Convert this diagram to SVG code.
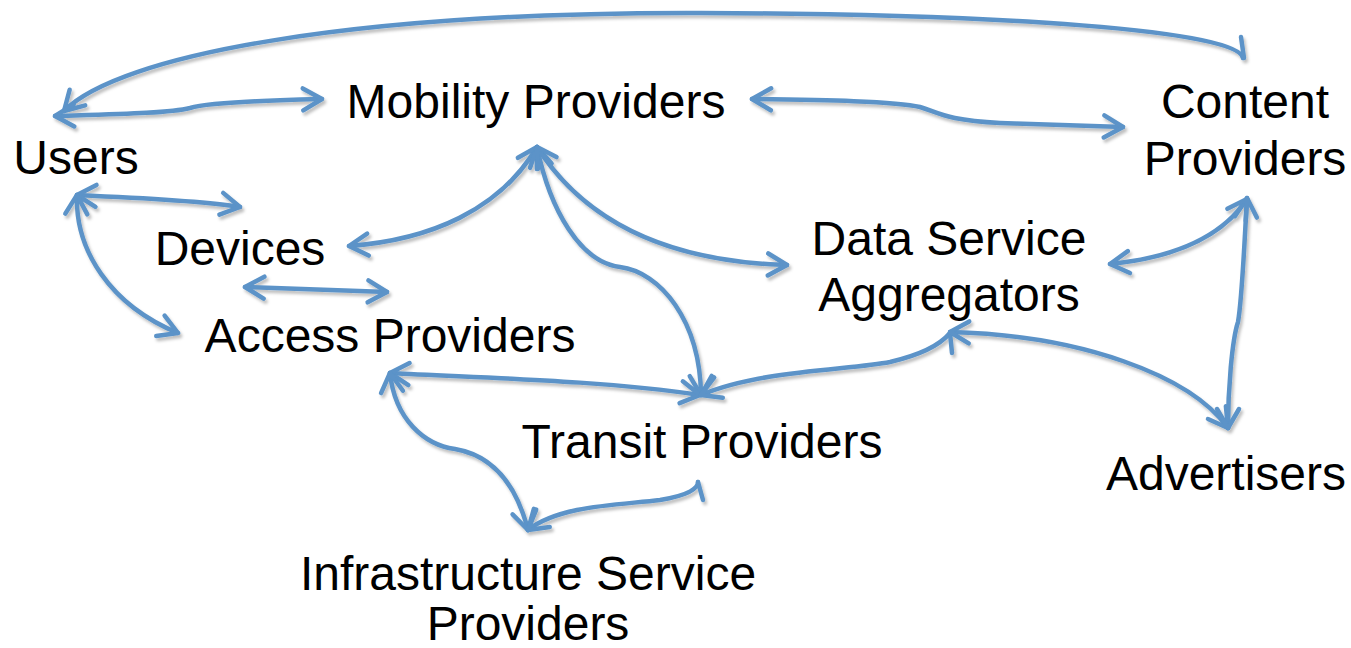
<svg xmlns="http://www.w3.org/2000/svg" width="1351" height="648" viewBox="0 0 1351 648">
  <style>
    .lbl { font-family: "Liberation Sans", Arial, sans-serif; font-size: 48px; fill: #000; text-anchor: middle; }
    .c { fill: none; stroke: #5b93c8; stroke-width: 4.5; stroke-linecap: round; stroke-linejoin: round; }
    .both { marker-start: url(#arr); marker-end: url(#arr); }
    .startonly { marker-start: url(#arr); }
  </style>
  <defs>
    <marker id="arr" markerUnits="userSpaceOnUse" viewBox="-24 -14 28 28" refX="0" refY="0" markerWidth="28" markerHeight="28" orient="auto-start-reverse" overflow="visible">
      <path d="M -19 -11 L 0 0 L -19 11" fill="none" stroke="#5b93c8" stroke-width="4.5" stroke-linecap="round" stroke-linejoin="round"/>
    </marker>
    <filter id="shadow" x="-5%" y="-5%" width="110%" height="110%">
      <feDropShadow dx="2" dy="3" stdDeviation="1.5" flood-color="#000" flood-opacity="0.25"/>
    </filter>
  </defs>
  <rect width="1351" height="648" fill="#fff"/>

  <g id="connectors" filter="url(#shadow)">
    <!-- long arc from Content Providers back to Users -->
    <path class="c startonly" d="M 64 111 C 120 55, 350 12, 700 13 C 1000 14, 1238 30, 1243 58"/>
    <path class="c" d="M 1241 37 L 1244 58"/>
    <!-- Users <-> Mobility Providers -->
    <path class="c both" d="M 55 116 C 120 114, 170 113, 190 108 C 210 102, 280 100, 322 99"/>
    <!-- Mobility Providers <-> Content Providers -->
    <path class="c both" d="M 752 99 C 820 100, 895 101, 920 107 C 940 113, 945 120, 1000 123 C 1050 125, 1090 126, 1123 127"/>
    <!-- Users <-> Devices -->
    <path class="c both" d="M 77 195 C 120 197, 200 200, 240 207"/>
    <!-- Users <-> Access Providers -->
    <path class="c both" d="M 77 195 C 75 250, 110 305, 178 333"/>
    <!-- Mobility Providers fan-out -->
    <path class="c both" d="M 537 147 C 500 210, 430 240, 349 246"/>
    <path class="c both" d="M 537 147 C 550 210, 580 262, 620 267 C 660 272, 700 320, 701 395"/>
    <path class="c both" d="M 537 147 C 590 230, 680 262, 787 265"/>
    <!-- Devices <-> Access Providers -->
    <path class="c both" d="M 245 287 L 387 292"/>
    <!-- Access Providers <-> Transit Providers -->
    <path class="c both" d="M 390 373 C 480 378, 600 380, 700 395"/>
    <!-- Transit Providers -> Data Service Aggregators -->
    <path class="c startonly" d="M 701 395 C 760 370, 850 370, 890 362 C 920 355, 940 345, 950 333"/>
    <path class="c" d="M 950 333 L 952 353"/>
    <!-- Data Service Aggregators <-> Advertisers -->
    <path class="c both" d="M 950 332 C 1080 335, 1190 375, 1228 428"/>
    <!-- Content Providers <-> Advertisers -->
    <path class="c both" d="M 1247 198 C 1244 250, 1242 300, 1238 322 C 1232 340, 1228 390, 1228 428"/>
    <!-- Content Providers <-> Data Service Aggregators -->
    <path class="c both" d="M 1247 199 C 1220 240, 1170 258, 1110 264"/>
    <!-- Access Providers <-> Infrastructure Service Providers -->
    <path class="c both" d="M 390 373 C 395 420, 425 445, 455 449 C 490 455, 515 480, 528 530"/>
    <!-- Infrastructure Service Providers -> Transit Providers -->
    <path class="c startonly" d="M 528 530 C 560 505, 620 505, 660 500 C 690 495, 698 488, 698 482"/>
    <path class="c" d="M 698 482 L 703 500"/>
  </g>

  <g id="users"><text class="lbl" x="76" y="174">Users</text></g>
  <g id="mobility-providers"><text class="lbl" x="536" y="118">Mobility Providers</text></g>
  <g id="content-providers">
    <text class="lbl" x="1245" y="118">Content</text>
    <text class="lbl" x="1245" y="175">Providers</text>
  </g>
  <g id="devices"><text class="lbl" x="240" y="265">Devices</text></g>
  <g id="access-providers"><text class="lbl" x="390" y="352">Access Providers</text></g>
  <g id="data-service-aggregators">
    <text class="lbl" x="949" y="255">Data Service</text>
    <text class="lbl" x="949" y="311">Aggregators</text>
  </g>
  <g id="transit-providers"><text class="lbl" x="702" y="458">Transit Providers</text></g>
  <g id="infrastructure-service-providers">
    <text class="lbl" x="528" y="590">Infrastructure Service</text>
    <text class="lbl" x="528" y="640">Providers</text>
  </g>
  <g id="advertisers"><text class="lbl" x="1226" y="490">Advertisers</text></g>
</svg>
